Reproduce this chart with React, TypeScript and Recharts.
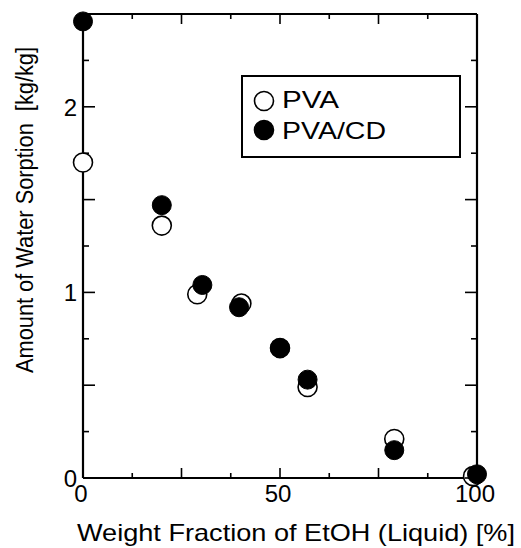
import React from 'react';
import { ScatterChart, Scatter, XAxis, YAxis, Label, Legend } from 'recharts';

// Water sorption of PVA and PVA/CD membranes vs. EtOH weight fraction of the liquid
const seriesNames = ['PVA', 'PVA/CD'];
const pvaEtoh = [0, 20, 29, 40.2, 50, 57, 79, 99];
const pvaSorption = [1.7, 1.36, 0.99, 0.94, 0.7, 0.49, 0.21, 0.01];
const pvaCdEtoh = [0, 20, 30.3, 39.6, 50, 57, 79, 100];
const pvaCdSorption = [2.46, 1.47, 1.04, 0.92, 0.7, 0.53, 0.15, 0.02];

const xTicks = [0, 12.5, 25, 37.5, 50, 62.5, 75, 87.5, 100];
const xTickLabels = ['0', '', '', '', '50', '', '', '', '100'];
const yTicks = [0, 0.25, 0.5, 0.75, 1, 1.25, 1.5, 1.75, 2, 2.25, 2.5];
const yTickLabels = ['0', '', '', '', '1', '', '', '', '2', '', ''];

const xTitle = 'Weight Fraction of EtOH (Liquid) [%]';
const yTitle = 'Amount of Water Sorption  [kg/kg]';

const pvaData = pvaEtoh.map((x, i) => ({ x, y: pvaSorption[i] }));
const pvaCdData = pvaCdEtoh.map((x, i) => ({ x, y: pvaCdSorption[i] }));

const FONT = '"Liberation Sans", Arial, Helvetica, sans-serif';
const INK = '#000';
const R = 9.5;

const isMajorX = (v: number) => v % 25 === 0;
const isMajorY = (v: number) => v % 0.5 === 0;

const labelFor = (ticks: number[], labels: string[], v: number) => {
  const i = ticks.indexOf(v);
  return i >= 0 ? labels[i] : '';
};

// Inward tick marks, with labels on the bottom and left sides only
const BottomTick = (p: any) => {
  const v = p.payload.value;
  const len = isMajorX(v) ? 10 : 5;
  const txt = labelFor(xTicks, xTickLabels, v);
  return (
    <g>
      <line x1={p.x} x2={p.x} y1={p.y} y2={p.y - len} stroke={INK} strokeWidth={1.6} />
      {txt && (
        <text x={p.x - (v === 0 ? 2 : v === 50 ? 2 : 2)} y={p.y + 24} textAnchor="middle" fontSize={24} fontFamily={FONT} fill={INK}>
          {txt}
        </text>
      )}
    </g>
  );
};

const TopTick = (p: any) => {
  const v = p.payload.value;
  const len = isMajorX(v) ? 10 : 5;
  return <line x1={p.x} x2={p.x} y1={p.y} y2={p.y + len} stroke={INK} strokeWidth={1.6} />;
};

const LeftTick = (p: any) => {
  const v = p.payload.value;
  const len = isMajorY(v) ? 12 : 6;
  const txt = labelFor(yTicks, yTickLabels, v);
  return (
    <g>
      <line x1={p.x} x2={p.x + len} y1={p.y} y2={p.y} stroke={INK} strokeWidth={1.6} />
      {txt && (
        <text x={p.x - 6} y={p.y + 9} textAnchor="end" fontSize={24} fontFamily={FONT} fill={INK}>
          {txt}
        </text>
      )}
    </g>
  );
};

const RightTick = (p: any) => {
  const v = p.payload.value;
  const len = isMajorY(v) ? 12 : 6;
  return <line x1={p.x} x2={p.x - len} y1={p.y} y2={p.y} stroke={INK} strokeWidth={1.6} />;
};

const OpenDot = (p: any) => (
  <circle cx={p.cx} cy={p.cy} r={R} fill="#fff" stroke={INK} strokeWidth={1.6} />
);
const FilledDot = (p: any) => (
  <circle cx={p.cx} cy={p.cy} r={R} fill={INK} stroke={INK} strokeWidth={1} />
);

const legendTextLength = [57, 104];

const LegendBox = () => (
  <svg width={220} height={83} style={{ display: 'block' }}>
    <rect x={1} y={1} width={218} height={81} fill="#fff" stroke={INK} strokeWidth={2} />
    {seriesNames.map((name, i) => (
      <g key={name}>
        <circle
          cx={23}
          cy={26 + i * 29}
          r={R}
          fill={i === 0 ? '#fff' : INK}
          stroke={INK}
          strokeWidth={1.6}
        />
        <text
          x={41}
          y={33 + i * 31}
          fontSize={24}
          fontFamily={FONT}
          fill={INK}
          textLength={legendTextLength[i]}
          lengthAdjust="spacingAndGlyphs"
        >
          {name}
        </text>
      </g>
    ))}
  </svg>
);

const YTitle = (props: any) => {
  const vb = props.viewBox || { x: 0, y: 0, width: 0, height: 0 };
  const bx = vb.x + 33;
  const cy = vb.y + vb.height / 2 - 36;
  return (
    <text
      x={bx}
      y={cy}
      transform={`rotate(-90, ${bx}, ${cy})`}
      textAnchor="middle"
      fontSize={23}
      fontFamily={FONT}
      fill={INK}
      textLength={326}
      lengthAdjust="spacingAndGlyphs"
      style={{ whiteSpace: 'pre' }}
    >
      {yTitle}
    </text>
  );
};

const XTitle = (props: any) => {
  const vb = props.viewBox || { x: 0, y: 0, width: 0, height: 0 };
  const cx = vb.x + vb.width / 2 + 16;
  const by = vb.y + 63;
  return (
    <text
      x={cx}
      y={by}
      textAnchor="middle"
      fontSize={24}
      fontFamily={FONT}
      fill={INK}
      textLength={438}
      lengthAdjust="spacingAndGlyphs"
    >
      {xTitle}
    </text>
  );
};

export default function App() {
  return (
    <div style={{ position: 'absolute', left: 0, top: 0, width: 521, height: 548, background: '#fff' }}>
      <ScatterChart width={521} height={548} margin={{ top: 13, right: 43, bottom: 0, left: 0 }}>
        <XAxis
          xAxisId="bottom"
          dataKey="x"
          type="number"
          orientation="bottom"
          domain={[0, 100]}
          ticks={xTicks}
          interval={0}
          height={70}
          tickSize={0}
          tickMargin={0}
          tickLine={false}
          axisLine={{ stroke: INK, strokeWidth: 2.2 }}
          tick={<BottomTick />}
        >
          <Label content={<XTitle />} />
        </XAxis>
        <XAxis
          xAxisId="top"
          dataKey="x"
          type="number"
          orientation="top"
          domain={[0, 100]}
          ticks={xTicks}
          interval={0}
          height={1}
          tickSize={0}
          tickMargin={0}
          tickLine={false}
          axisLine={{ stroke: INK, strokeWidth: 2.2 }}
          tick={<TopTick />}
          allowDataOverflow
        />
        <YAxis
          yAxisId="left"
          dataKey="y"
          type="number"
          orientation="left"
          domain={[0, 2.5]}
          ticks={yTicks}
          interval={0}
          width={83}
          tickSize={0}
          tickMargin={0}
          tickLine={false}
          axisLine={{ stroke: INK, strokeWidth: 2.2 }}
          tick={<LeftTick />}
        >
          <Label content={<YTitle />} />
        </YAxis>
        <YAxis
          yAxisId="right"
          dataKey="y"
          type="number"
          orientation="right"
          domain={[0, 2.5]}
          ticks={yTicks}
          interval={0}
          width={1}
          tickSize={0}
          tickMargin={0}
          tickLine={false}
          axisLine={{ stroke: INK, strokeWidth: 2.2 }}
          tick={<RightTick />}
          allowDataOverflow
        />
        <Legend
          layout="vertical"
          align="center"
          verticalAlign="middle"
          content={<LegendBox />}
          wrapperStyle={{ left: 241, top: 75, width: 220, height: 83 }}
        />
        <Scatter
          name={seriesNames[0]}
          data={pvaData}
          xAxisId="bottom"
          yAxisId="left"
          shape={<OpenDot />}
          isAnimationActive={false}
        />
        <Scatter
          name={seriesNames[1]}
          data={pvaCdData}
          xAxisId="bottom"
          yAxisId="left"
          shape={<FilledDot />}
          isAnimationActive={false}
        />
      </ScatterChart>
    </div>
  );
}
